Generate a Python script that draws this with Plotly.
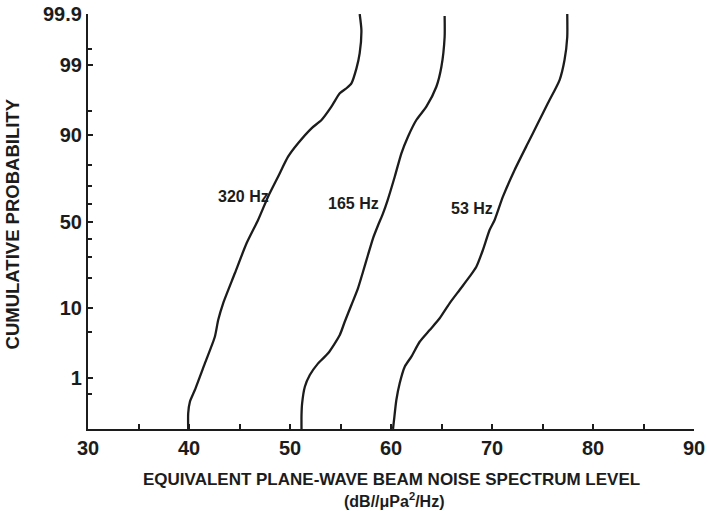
from statistics import NormalDist
import plotly.graph_objects as go

# Cumulative distributions of beam noise level (dB) vs. cumulative probability (%)
level_320 = [56.90, 57.07, 56.90, 56.58, 56.08, 55.59, 54.93, 54.10, 53.12, 52.13,
             50.80, 49.81, 48.82, 47.83, 46.84, 45.70, 44.54, 43.38, 42.89, 42.56,
             41.57, 40.58, 40.09, 39.92, 39.92]
prob_320 = [99.90, 99.78, 99.39, 98.87, 98.02, 97.64, 97.19, 95.64, 93.47, 91.74,
            87.80, 83.27, 74.76, 64.41, 50.90, 37.26, 22.03, 11.16, 7.12, 4.31,
            1.73, 0.605, 0.364, 0.214, 0.10]

level_165 = [65.31, 65.31, 64.99, 64.49, 63.50, 62.51, 61.68, 61.03, 60.37, 59.67,
             59.21, 58.73, 58.22, 57.72, 57.23, 56.73, 56.08, 55.42, 54.93, 53.77,
             52.78, 51.96, 51.47, 51.20, 51.14, 51.14]
prob_165 = [99.89, 99.70, 98.94, 97.76, 95.64, 93.47, 89.67, 84.51, 74.76, 62.55,
            54.85, 47.92, 40.13, 30.89, 22.73, 15.99, 10.69, 6.78, 4.55, 2.48,
            1.73, 1.11, 0.694, 0.339, 0.198, 0.10]

level_53 = [77.45, 77.45, 77.18, 76.69, 75.53, 74.54, 73.55, 72.24, 71.08, 70.26,
            69.76, 69.10, 68.45, 67.78, 66.79, 65.80, 64.82, 63.83, 62.84, 62.02,
            61.36, 60.86, 60.53, 60.30, 60.20]
prob_53 = [99.90, 99.70, 99.19, 98.24, 96.08, 92.81, 87.80, 77.85, 64.41, 50.90,
           44.94, 33.57, 25.04, 20.55, 15.39, 11.16, 7.47, 5.30, 3.67, 2.21,
           1.53, 0.80, 0.393, 0.156, 0.10]

prob_major = [1, 10, 50, 90, 99, 99.9]
prob_major_text = ["1", "10", "50", "90", "99", "99.9"]
prob_minor = [0.5, 5, 20, 30, 40, 60, 70, 80, 95, 99.5]
level_ticks = [30, 40, 50, 60, 70, 80, 90]
level_minor = [35, 45, 55, 65, 75, 85]

curve_names = ["320 Hz", "165 Hz", "53 Hz"]
label_pos = [(45.4, 64.5), (56.3, 60.5), (68.0, 57.5)]

nd = NormalDist()


def probit(p):
    """Map a cumulative probability in percent onto the normal-probability scale."""
    return nd.inv_cdf(p / 100.0)


INK = "#1c1c1c"
FONT = "Liberation Sans, Arial, Helvetica, sans-serif"

fig = go.Figure()
for lv, pr, name in [(level_320, prob_320, curve_names[0]),
                     (level_165, prob_165, curve_names[1]),
                     (level_53, prob_53, curve_names[2])]:
    fig.add_trace(go.Scatter(
        x=lv, y=[probit(p) for p in pr], mode="lines", name=name,
        line=dict(color=INK, width=2.3, shape="spline", smoothing=0.6),
        showlegend=False, hoverinfo="skip"))

for name, (lx, lp) in zip(curve_names, label_pos):
    fig.add_annotation(x=lx, y=probit(lp), text=name, showarrow=False,
                       xanchor="center", yanchor="middle",
                       font=dict(family=FONT, size=16, color=INK, weight="bold"))

z_lo, z_hi = probit(0.1), probit(99.9)

fig.update_layout(
    width=709, height=511,
    margin=dict(l=88, r=15, t=14, b=82, pad=0),
    paper_bgcolor="white", plot_bgcolor="white",
    font=dict(family=FONT, color=INK),
    xaxis=dict(
        range=[30, 90], tickmode="array", tickvals=level_ticks,
        ticks="inside", ticklen=5, tickwidth=1.5, tickcolor=INK,
        minor=dict(tickmode="array", tickvals=level_minor, ticks="inside",
                   ticklen=5, tickwidth=1.5, tickcolor=INK),
        showline=True, linewidth=2.2, linecolor=INK,
        showgrid=False, zeroline=False, automargin=False,
        tickfont=dict(family=FONT, size=20, color=INK, weight="bold"),
    ),
    yaxis=dict(
        range=[z_lo, z_hi], tickmode="array",
        tickvals=[probit(p) for p in prob_major], ticktext=prob_major_text,
        ticks="inside", ticklen=5, tickwidth=1.5, tickcolor=INK,
        minor=dict(tickmode="array", tickvals=[probit(p) for p in prob_minor],
                   ticks="inside", ticklen=4, tickwidth=1.5, tickcolor=INK),
        showline=True, linewidth=2.2, linecolor=INK,
        showgrid=False, zeroline=False, automargin=False,
        tickfont=dict(family=FONT, size=20, color=INK, weight="bold"),
    ),
)

# Axis titles
fig.add_annotation(xref="paper", yref="paper", x=0.5, y=-0.1205,
                   xanchor="center", yanchor="middle",
                   text="EQUIVALENT PLANE-WAVE BEAM NOISE SPECTRUM LEVEL",
                   showarrow=False,
                   font=dict(family=FONT, size=17, color=INK, weight="bold"))
fig.add_annotation(xref="paper", yref="paper", x=0.505, y=-0.171,
                   xanchor="center", yanchor="middle",
                   text="(dB//μPa<sup>2</sup>/Hz)", showarrow=False,
                   font=dict(family=FONT, size=16, color=INK, weight="bold"))
fig.add_annotation(xref="paper", yref="paper", x=-0.124, y=0.495,
                   xanchor="center", yanchor="middle",
                   text="CUMULATIVE PROBABILITY", textangle=-90, showarrow=False,
                   font=dict(family=FONT, size=18.5, color=INK, weight="bold"))

fig.write_html("out.html")
